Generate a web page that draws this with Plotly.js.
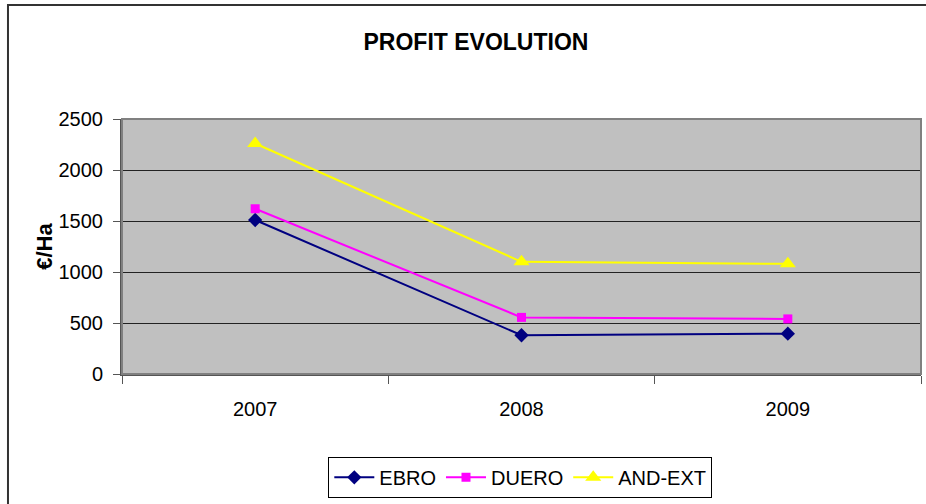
<!DOCTYPE html>
<html>
<head>
<meta charset="utf-8">
<script src="https://cdn.plot.ly/plotly-3.0.1.min.js"></script>
<style>html,body{margin:0;padding:0;background:#fff;}#chart{width:926px;height:504px;}</style>
</head>
<body>
<div id="chart"></div>
<script>
var years = ["2007", "2008", "2009"];
var ebro = [1510, 380, 395];
var duero = [1620, 555, 540];
var andExt = [2260, 1100, 1080];
var yTicks = [0, 500, 1000, 1500, 2000, 2500];

var FONT = "Liberation Sans, Arial, sans-serif";

var traces = [
  {x: years, y: ebro, name: "EBRO", type: "scatter", mode: "lines+markers",
   line: {color: "#000080", width: 2}, marker: {symbol: "diamond", size: 11, color: "#000080"}},
  {x: years, y: duero, name: "DUERO", type: "scatter", mode: "lines+markers",
   line: {color: "#FF00FF", width: 2}, marker: {symbol: "square", size: 9, color: "#FF00FF"}},
  {x: years, y: andExt, name: "AND-EXT", type: "scatter", mode: "lines+markers",
   line: {color: "#FFFF00", width: 2}, marker: {symbol: "triangle-up", size: 14, color: "#FFFF00"}}
];

var layout = {
  width: 926, height: 504,
  margin: {l: 122, r: 5, t: 119, b: 130},
  paper_bgcolor: "#ffffff",
  plot_bgcolor: "#C0C0C0",
  font: {family: FONT, color: "#000", size: 20},
  title: {text: "<b>PROFIT EVOLUTION</b>", font: {family: FONT, size: 23, color: "#000"},
          x: 0.514, xref: "container", xanchor: "center", y: 0.917, yref: "container", yanchor: "middle"},
  showlegend: true,
  legend: {orientation: "h", x: 0.4985, xanchor: "center", y: -0.405, yanchor: "middle",
           bgcolor: "#fff", bordercolor: "#000", borderwidth: 1,
           font: {family: FONT, size: 20, color: "#000"}, itemwidth: 40, tracegroupgap: 0},
  xaxis: {type: "category", range: [-0.5, 2.5], tickson: "boundaries", ticks: "outside", ticklen: 8,
          tickcolor: "#555", tickwidth: 1, showgrid: false, showline: true, linecolor: "#555", linewidth: 2,
          zeroline: false, ticklabelstandoff: 16, tickfont: {family: FONT, size: 20}},
  yaxis: {range: [0, 2500], tickmode: "array", tickvals: yTicks, ticktext: yTicks.map(String),
          ticks: "outside", ticklen: 7, tickcolor: "#555", showgrid: true, gridcolor: "#222", gridwidth: 1,
          showline: true, linecolor: "#555", linewidth: 2, zeroline: false, ticklabelstandoff: 6,
          tickfont: {family: FONT, size: 20},
          title: {text: "<b>€/Ha</b>", font: {family: FONT, size: 22, color: "#000"}, standoff: 0}},
  shapes: [
    {type: "rect", xref: "paper", yref: "paper", x0: 0, x1: 1, y0: 0, y1: 1,
     line: {color: "#808080", width: 2}, layer: "above"},
    {type: "rect", xref: "paper", yref: "paper", x0: -0.1427, x1: 1.2, y0: 1.447, y1: -1,
     line: {color: "#333", width: 2}}
  ]
};

Plotly.newPlot("chart", traces, layout, {displayModeBar: false, staticPlot: true});
</script>
</body>
</html>
